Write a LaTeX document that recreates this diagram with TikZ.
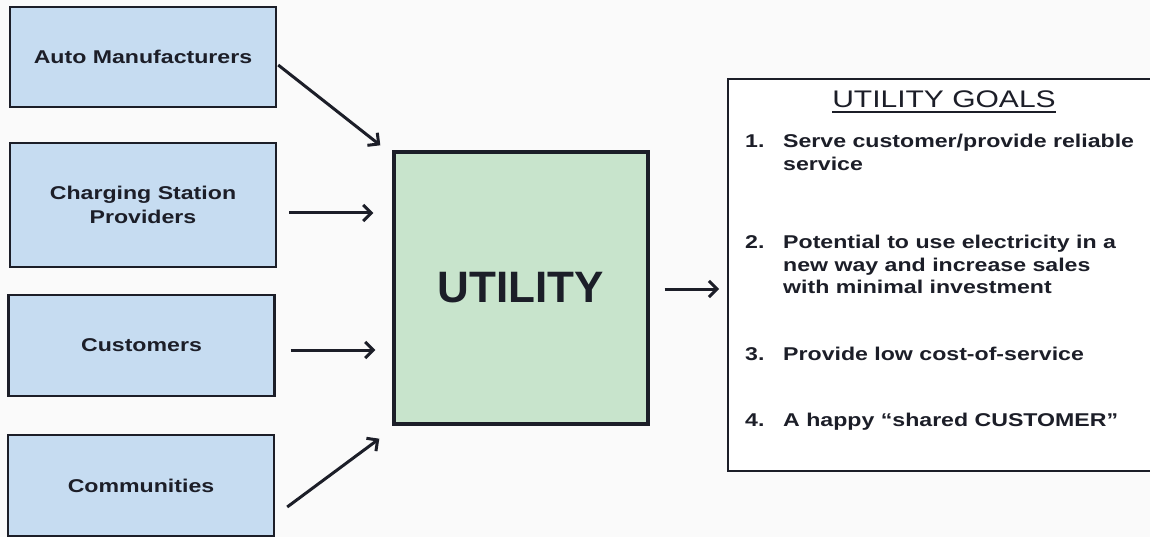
\documentclass[tikz,border=0pt]{standalone}
\usepackage{fontspec}
\setmainfont{Liberation Sans}
\newfontfamily\widefont{Liberation Sans}[FakeStretch=1.25,Ligatures=TeX]
\usetikzlibrary{arrows.meta,calc}
\definecolor{boxblue}{RGB}{198,220,241}
\definecolor{boxgreen}{RGB}{200,228,204}
\definecolor{inkc}{RGB}{28,30,40}
\definecolor{paper}{RGB}{250,250,250}
\tikzset{
  srcbox/.style={draw=inkc, line width=2.4pt, fill=boxblue, minimum width=266pt, inner sep=0pt,
    align=center, text=inkc, font=\widefont\bfseries\fontsize{18.5}{24}\selectfont},
  utilbox/.style={draw=inkc, line width=3.4pt, fill=boxgreen, minimum width=254pt, minimum height=272pt,
    inner sep=0pt, text=inkc, font=\bfseries\fontsize{44}{50}\selectfont},
  goalbox/.style={draw=inkc, line width=2pt, fill=white, inner sep=0pt},
  goaltxt/.style={anchor=base west, inner sep=0pt, text=inkc, font=\widefont\bfseries\fontsize{18.5}{22}\selectfont},
  arr/.style={draw=inkc, line width=3pt, -{Straight Barb[length=8pt,width=16pt]}}
}
\begin{document}
\begin{tikzpicture}[x=1pt,y=-1pt]
\useasboundingbox (0,0) rectangle (1150,537);
\fill[paper] (0,0) rectangle (1150,537);
\clip (0,0) rectangle (1150,537);
% source boxes
\node[srcbox, minimum height=100pt] (auto) at (143,57) {Auto Manufacturers};
\node[srcbox, minimum height=124pt] (charge) at (143,205) {Charging Station\\Providers};
\node[srcbox, minimum height=101pt] (cust) at (141.5,345.5) {Customers};
\node[srcbox, minimum height=101pt] (comm) at (141,485.5) {Communities};
% utility
\node[utilbox] (util) at (521,288) {UTILITY};
% goals box
\node[goalbox, minimum width=440pt, minimum height=392pt, anchor=north west] (goals) at (727,78) {};
% title
\node[anchor=base, inner sep=0pt, text=inkc, font=\widefont\fontsize{24}{28}\selectfont] (title) at (944,108) {UTILITY GOALS};
\draw[inkc, line width=2pt] ([yshift=-4pt]title.base west) -- ([yshift=-4pt]title.base east);
% items
\node[goaltxt] (n1) at (745,148) {1.};
\node[goaltxt] (g1a) at (783,148) {Serve customer/provide reliable};
\node[goaltxt] (g1b) at (783,171) {service};
\node[goaltxt] (n2) at (745,248) {2.};
\node[goaltxt] (g2a) at (783,248) {Potential to use electricity in a};
\node[goaltxt] (g2b) at (783,271) {new way and increase sales};
\node[goaltxt] (g2c) at (783,293) {with minimal investment};
\node[goaltxt] (n3) at (745,360) {3.};
\node[goaltxt] (g3) at (783,360) {Provide low cost-of-service};
\node[goaltxt] (n4) at (745,426) {4.};
\node[goaltxt] (g4) at (783,426) {A happy “shared CUSTOMER”};
% arrows
\draw[arr] ($(auto.east)+(1,8)$) -- ($(util.north west)+(-12,-5)$);
\draw[arr] ($(charge.east)+(12,8)$) -- ($(charge.east -| util.west)+(-19,8)$);
\draw[arr] ($(cust.east)+(15,4.5)$) -- ($(cust.east -| util.west)+(-17,4.5)$);
\draw[arr] ($(comm.east)+(12,21.5)$) -- ($(util.south west)+(-13,13)$);
\draw[arr] ($(util.east)+(15,1)$) -- ($(util.east -| goals.west)+(-8,1)$);
\end{tikzpicture}
\end{document}
